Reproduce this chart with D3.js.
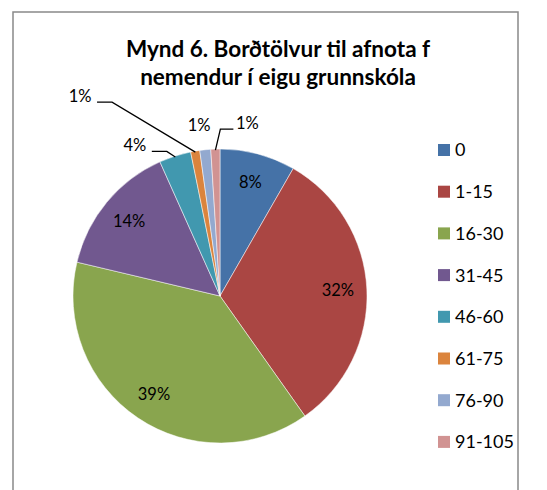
<!DOCTYPE html>
<html>
<head>
<meta charset="utf-8">
<script src="https://cdn.jsdelivr.net/npm/d3@7"></script>
<style>
  body { margin: 0; background: #fff; }
  text { font-family: Lato, "Open Sans", sans-serif; fill: #000; }
</style>
</head>
<body>
<div id="chart"></div>
<script>
// pie of desktop computers per pupil group

var categories = ['0', '1-15', '16-30', '31-45', '46-60', '61-75', '76-90', '91-105']
var values = [8.3, 31.9, 38.5, 14.6, 3.5, 1.0, 1.2, 1.0]
var labels = ['8%', '32%', '39%', '14%', '4%', '1%', '1%', '1%']
var colors = ['#4572A7', '#AA4643', '#89A54E', '#71588F', '#4198AF', '#DB843D', '#93A9CF', '#D19392']
var titleLines = ['Mynd 6. Borðtölvur til afnota f', 'nemendur í eigu grunnskóla']

var width = 547,
	height = 490,
	cx = 220,
	cy = 296,
	radius = 147

// outside labels: angle (deg from top) and distance of label centre, plus leader side
var outside = {
	4: {angle: 330.5, dist: 173, side: 'right'},
	5: {angle: 325, dist: 244, side: 'right'},
	6: {angle: 353, dist: 172, side: 'none'},
	7: {angle: 9, dist: 175, side: 'left'}
}

var svg = d3.select('#chart').append('svg')
	.attr('width', width)
	.attr('height', height)

svg.append('rect')
	.attr('x', 13)
	.attr('y', 12)
	.attr('width', 505)
	.attr('height', height + 10)
	.style('fill', 'none')
	.style('stroke', '#898989')
	.style('stroke-width', 1.5)

svg.selectAll('text.title').data(titleLines)
	.enter().append('text')
	.classed('title', true)
	.attr('x', 278)
	.attr('y', function(d, i){ return 57 + i * 28 })
	.attr('text-anchor', 'middle')
	.style('font-weight', 'bold')
	.style('font-size', '22.5px')
	.text(function(d){ return d })

var pie = d3.pie().sort(null).value(function(d){ return d })
var arcs = pie(values)
var arc = d3.arc().innerRadius(0).outerRadius(radius)
var labelArc = d3.arc().innerRadius(118).outerRadius(118)

var g = svg.append('g').attr('transform', 'translate(' + cx + ',' + cy + ')')

g.selectAll('path').data(arcs)
	.enter().append('path')
	.attr('d', arc)
	.style('fill', function(d, i){ return colors[i] })
	.style('stroke', '#fff')
	.style('stroke-width', 0.5)

function polar(angleDeg, r){
	var a = angleDeg * Math.PI / 180
	return [Math.sin(a) * r, -Math.cos(a) * r]
}

// inside labels
g.selectAll('text.inlabel').data(arcs.filter(function(d, i){ return !outside[i] }))
	.enter().append('text')
	.classed('inlabel', true)
	.attr('transform', function(d){ return 'translate(' + labelArc.centroid(d) + ')' })
	.attr('text-anchor', 'middle')
	.attr('dy', '0.35em')
	.style('font-size', '16.5px')
	.text(function(d){ return labels[d.index] })

// outside labels with leader lines
arcs.forEach(function(d, i){
	var o = outside[i]
	if (!o) return
	var p = polar(o.angle, o.dist)
	g.append('text')
		.attr('x', p[0])
		.attr('y', p[1])
		.attr('text-anchor', 'middle')
		.attr('dy', '0.35em')
		.style('font-size', '16.5px')
		.text(labels[i])
	if (o.side === 'none') return
	var mid = (d.startAngle + d.endAngle) / 2
	var edge = [Math.sin(mid) * (radius - 1), -Math.cos(mid) * (radius - 1)]
	var ly = p[1] + 6
	var x0, x1
	if (o.side === 'right') {
		x0 = p[0] + 17
		x1 = x0 + 15
	} else {
		x0 = p[0] - 14
		x1 = x0 - 13
	}
	g.append('polyline')
		.attr('points', [[x0, ly], [x1, ly], edge].map(function(q){ return q.join(',') }).join(' '))
		.style('fill', 'none')
		.style('stroke', '#000')
		.style('stroke-width', 1.3)
})

// legend
var legend = svg.selectAll('g.legend').data(categories)
	.enter().append('g')
	.classed('legend', true)
	.attr('transform', function(d, i){ return 'translate(438,' + (150 + i * 41.7) + ')' })

legend.append('rect')
	.attr('x', 0)
	.attr('y', -6)
	.attr('width', 12)
	.attr('height', 12)
	.style('fill', function(d, i){ return colors[i] })

legend.append('text')
	.attr('x', 17)
	.attr('dy', '0.36em')
	.style('font-size', '18px')
	.text(function(d){ return d })
</script>
</body>
</html>
